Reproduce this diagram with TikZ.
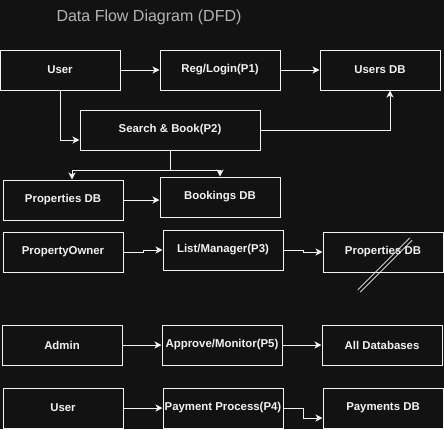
\documentclass[tikz,border=0pt]{standalone}
\usepackage{fontspec}
\setmainfont{Liberation Sans}
\usetikzlibrary{arrows.meta,calc}
\definecolor{bg}{HTML}{121212}
\definecolor{fg}{HTML}{F2F2F2}
\definecolor{titlec}{HTML}{B4B4B4}
\begin{document}
\begin{tikzpicture}[x=1pt,y=-1pt,
  box/.style={draw=fg,fill=bg,line width=1pt,minimum width=120pt,minimum height=40pt,inner sep=0pt,
    text=fg,font=\fontsize{11.4}{13}\selectfont\bfseries},
  flow/.style={draw=fg,line width=1pt,-{Stealth[length=7pt,width=7pt,inset=2pt]}},
  linkline/.style={draw=fg,line width=0.8pt}]
\fill[bg] (0,0) rectangle (444,429);
\useasboundingbox (0,0) rectangle (444,429);
\node[text=titlec,font=\fontsize{16}{19}\selectfont] (title) at (149,17) {Data Flow Diagram (DFD)};
\node[box] (user1) at (60,70) {User};
\node[box] (p1) at (220,70) {Reg/Login(P1)};
\node[box] (usersdb) at (380,70) {Users DB};
\node[box,minimum width=180pt] (p2) at (170,130) {Search \& Book(P2)};
\node[box] (propdb) at (63,200) {Properties DB};
\node[box] (bookdb) at (220,197) {Bookings DB};
\node[box] (owner) at (63,252) {PropertyOwner};
\node[box] (p3) at (223,250) {List/Manager(P3)};
\node[box] (propdb2) at (383,252) {Properties DB};
\node[box] (admin) at (62,345) {Admin};
\node[box] (p5) at (222,345) {Approve/Monitor(P5)};
\node[box] (alldb) at (382,345) {All Databases};
\node[box] (user2) at (63,408) {User};
\node[box] (p4) at (223,408) {Payment Process(P4)};
\node[box] (paydb) at (383,408) {Payments DB};
\draw[flow] (user1.east) -- (p1.west);
\draw[flow] (p1.east) -- (usersdb.west);
\draw[flow] (user1.south) |- ($(p2.west)+(0,10)$);
\draw[flow] (p2.east) -| ($(usersdb.south)+(10,0)$);
\draw[flow] (p2.south) -- ++(0,20) -| ($(propdb.north)+(9,0)$);
\draw[flow] (p2.south) -- ++(0,20) -| (bookdb.north);
\draw[flow] (propdb.east) -- (propdb.east -| bookdb.west);
\draw[flow] (owner.east) -- ++(20,0) |- (p3.west);
\draw[flow] (p3.east) -- ++(20,0) |- (propdb2.west);
\coordinate (lk1) at (357.8,289.8);
\coordinate (lk2) at (409.8,237.8);
\coordinate (lk3) at (360.2,292.2);
\coordinate (lk4) at (412.2,240.2);
\draw[linkline] (lk1) -- (lk2);
\draw[linkline] (lk3) -- (lk4);
\draw[flow] (admin.east) -- (p5.west);
\draw[flow] (p5.east) -- (alldb.west);
\draw[flow] (user2.east) -- (p4.west);
\draw[flow] (p4.east) -- ++(20,0) |- ($(paydb.west)+(0,10)$);
\end{tikzpicture}
\end{document}
